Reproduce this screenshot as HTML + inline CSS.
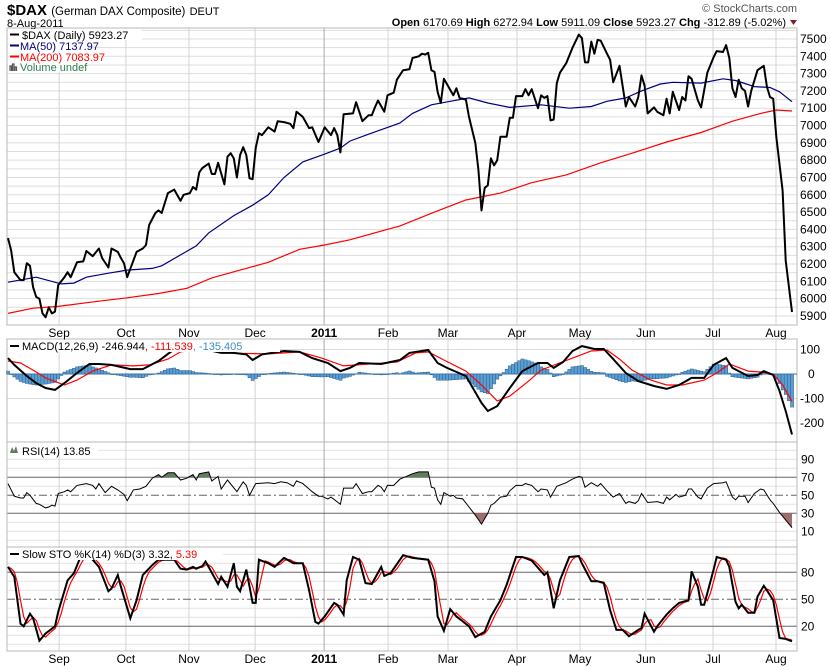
<!DOCTYPE html>
<html><head><meta charset="utf-8"><style>
html,body{margin:0;padding:0;background:#fff;}
svg{display:block;font-family:"Liberation Sans",sans-serif;}
</style></head><body>
<svg id="c" width="830" height="667" viewBox="0 0 830 667" xmlns="http://www.w3.org/2000/svg">
<rect x="0" y="0" width="830" height="667" fill="#fff"/>
<g id="grid"></g>
<g id="marks"></g>
<g id="labels">
<text x="7" y="15" font-size="15" font-weight="bold" fill="#000">$DAX <tspan font-size="11.5" font-weight="normal">(German DAX Composite)</tspan> <tspan font-size="11" font-weight="normal">DEUT</tspan></text>
<text x="7" y="27" font-size="11" fill="#000">8-Aug-2011</text>
<text x="797" y="12" font-size="11" fill="#555" text-anchor="end">© StockCharts.com</text>
<text x="786" y="26" font-size="11" fill="#000" text-anchor="end"><tspan font-weight="bold">Open</tspan> 6170.69 <tspan font-weight="bold">High</tspan> 6272.94 <tspan font-weight="bold">Low</tspan> 5911.09 <tspan font-weight="bold">Close</tspan> 5923.27 <tspan font-weight="bold">Chg</tspan> -312.89 (-5.02%)</text>
<path d="M790 20 L797 20 L793.5 25 Z" fill="#8b1a2a"/>
</g>
</svg>
<script>
// ---------- data ----------
const priceSess=[0,1,2,4,5,6,7,8,9,10,11,12,13,14,15,16,18,19,20,22,24,25,27,29,30,32,33,35,36,37,38,41,43,44,45,47,48,49,51,53,55,56,58,59,60,61,62,64,65,66,67,69,70,71,72,73,74,75,76,77,78,79,80,81,83,85,86,88,90,91,92,94,96,97,99,101,103,104,105,106,107,110,111,113,115,116,117,118,120,121,123,124,126,128,129,131,132,133,134,135,136,137,138,139,142,143,144,146,147,149,150,151,152,153,154,155,156,157,158,159,160,161,162,164,165,166,167,169,170,171,172,173,174,175,176,178,180,182,183,184,185,186,187,188,189,191,192,193,195,197,198,200,201,202,203,204,206,207,209,210,211,212,214,215,216,217,218,220,221,223,225,226,228,229,230,231,232,233,234,235,236,237,239,241,242,243,244,245,247,248,250];
const priceClose=[6350,6280,6153,6107,6107,6205,6190,6066,6010,6000,5915,5893,5950,5915,5925,6078,6124,6153,6124,6210,6215,6275,6245,6290,6235,6180,6290,6270,6235,6205,6124,6270,6290,6310,6425,6495,6510,6495,6610,6630,6565,6600,6610,6645,6630,6730,6755,6780,6720,6720,6785,6660,6820,6840,6810,6700,6830,6875,6830,6695,6690,6870,6955,6945,6990,6965,7025,7020,7010,6985,7080,7050,6985,6990,6905,6990,6945,6985,6945,6845,7065,7070,7135,7025,7060,7060,7105,7145,7080,7175,7190,7265,7320,7325,7390,7400,7415,7410,7420,7320,7310,7195,7130,7270,7175,7215,7160,7150,7050,6900,6745,6510,6640,6655,6810,6770,6800,6935,6935,6935,7045,7045,7170,7170,7210,7175,7210,7100,7175,7160,7170,7030,7035,7245,7305,7360,7450,7525,7505,7365,7365,7485,7415,7495,7490,7415,7380,7250,7345,7110,7165,7110,7165,7290,7230,7070,7105,7080,7060,7155,7070,7195,7090,7165,7145,7285,7270,7145,7105,7305,7395,7430,7425,7465,7390,7215,7165,7265,7215,7200,7110,7200,7320,7345,7225,7165,7155,6935,6625,6220,5923];
const ma50Sess=[0,9,17,21,25,32,38,46,49,56,60,64,72,78,83,88,94,101,106,109,115,125,129,135,141,147,153,160,170,179,186,191,197,202,208,212,221,228,232,238,243,246,250];
const ma50Vals=[6095,6124,6085,6090,6124,6147,6165,6175,6190,6263,6305,6380,6480,6540,6600,6700,6790,6835,6870,6910,6950,7015,7070,7120,7140,7160,7130,7105,7120,7100,7110,7140,7160,7200,7240,7250,7245,7270,7260,7225,7220,7195,7138];
const ma200Sess=[0,8,16,29,38,48,57,65,72,83,93,101,109,125,136,146,157,167,178,189,199,210,221,231,240,245,250];
const ma200Vals=[5915,5945,5955,5985,6005,6030,6060,6120,6155,6210,6285,6310,6340,6420,6500,6570,6610,6670,6715,6785,6840,6905,6960,7025,7070,7090,7084];
const macdSess=[0,2,6,9,12,15,18,22,26,29,33,39,43,48,51,53,58,63,68,72,76,78,81,88,93,97,102,106,109,112,119,122,125,128,134,137,140,146,151,153,156,160,164,169,172,174,177,180,183,187,190,193,197,201,206,210,214,218,222,225,229,231,236,239,241,244,246,248,250];
const macdVals=[65,37,-8,-37,-57,-65,-37,4,41,41,37,20,20,53,82,100,110,100,86,86,80,57,80,94,90,65,45,12,25,45,41,49,57,86,98,45,25,-8,-118,-151,-131,-57,12,45,45,25,49,94,114,102,102,61,4,-29,-49,-61,-45,-16,-16,37,65,25,-8,-4,12,-4,-69,-151,-247];
const sigSess=[0,4,8,12,18,22,27,33,40,45,51,55,60,72,83,93,100,107,115,124,130,134,139,146,151,156,160,166,170,175,180,186,191,195,199,205,210,215,222,226,230,236,240,244,247,250];
const sigVals=[53,45,16,-16,-45,-25,12,37,33,37,61,90,100,85,82,90,65,33,41,49,86,90,57,12,-45,-110,-90,-29,16,41,65,94,98,61,16,-25,-45,-45,-25,4,41,12,8,0,-45,-112];
const rsiSess=[0,2,4,5,6,7,9,10,12,13,14,15,16,18,19,20,22,25,27,28,29,31,33,35,37,38,40,42,44,46,48,49,51,53,55,57,59,60,61,64,65,67,68,70,73,75,76,77,79,83,85,87,89,91,92,94,97,99,100,102,103,106,107,110,111,113,115,116,118,119,120,121,123,125,127,129,131,134,135,136,137,138,139,141,142,143,145,147,149,151,153,154,155,157,159,160,162,164,165,167,169,170,172,173,175,178,180,182,183,184,186,188,189,191,193,195,197,198,200,201,202,204,207,209,210,211,213,214,216,217,218,220,221,223,225,228,229,231,232,233,235,236,238,240,241,243,244,246,250];
const rsiVals=[63,49,47,47,53,50,41,40,36,37,39,38,52,54,56,54,61,63,61,57,63,53,60,56,51,44,56,57,60,69,73,70,75,75,67,69,73,67,74,76,66,71,57,67,54,65,61,50,63,64,63,65,64,60,66,63,54,49,49,46,48,40,58,58,63,52,54,54,61,59,54,61,61,68,71,74,76,76,59,58,45,40,53,49,50,47,46,37,28,18,30,39,41,48,49,55,61,61,63,61,54,57,56,48,60,64,68,71,70,59,64,60,63,55,48,52,41,43,41,44,52,42,43,41,48,45,51,48,50,57,57,48,46,58,63,64,65,48,45,49,49,42,52,57,56,45,41,31,14];
const stoSess=[0,2,4,5,7,8,10,12,15,16,19,21,23,25,27,29,32,33,35,36,39,41,43,46,48,53,55,57,59,60,62,63,67,68,70,72,73,74,76,78,79,80,83,85,88,91,94,96,98,99,101,104,105,107,108,110,112,114,116,119,120,122,125,126,129,134,136,137,139,141,143,147,149,152,154,157,159,162,164,167,171,172,174,176,179,182,183,186,188,190,192,194,196,198,201,202,203,206,207,210,212,214,217,218,220,221,222,225,226,229,230,232,233,234,236,238,239,241,242,244,246,248,250];
const stoK=[86,75,23,20,34,29,4,12,20,36,71,79,96,100,94,86,59,62,77,64,29,49,77,88,94,94,84,83,86,84,87,92,67,75,64,90,64,59,83,46,46,94,90,86,96,90,90,60,25,23,31,46,44,33,71,97,94,68,67,86,76,79,94,99,96,94,70,31,15,39,31,20,8,14,31,49,66,97,97,93,77,80,40,71,97,98,90,70,70,68,38,16,16,9,16,18,34,14,20,33,40,46,49,81,64,44,44,83,97,94,86,47,40,44,35,35,53,65,60,49,7,6,3.3];
const monthNames=["Sep","Oct","Nov","Dec","2011","Feb","Mar","Apr","May","Jun","Jul","Aug"];
const monthSess=[16.3,37.6,57.7,78.8,100.8,121.2,140.3,162.3,182.4,203.4,224.8,244.9];
const priceTicks=[5900,6000,6100,6200,6300,6400,6500,6600,6700,6800,6900,7000,7100,7200,7300,7400,7500];
const macdTicks=[100,0,-100,-200];
const rsiTicks=[90,70,50,30,10];
const stoTicks=[80,50,20];

// ---------- axes ----------
const L=7,R=797;
const X=s=>8+s*3.136;
const yP=p=>39+(7500-p)*0.1731;
const yM=v=>374-v*0.245;
const yR=v=>495.3-(v-50)*0.9;
const yS=v=>599.3-(v-50)*0.9;
const NS="http://www.w3.org/2000/svg";
const G=document.getElementById('grid'),M=document.getElementById('marks'),LB=document.getElementById('labels');
function mk(tag,attrs,parent){const e=document.createElementNS(NS,tag);for(const k in attrs)e.setAttribute(k,attrs[k]);(parent||M).appendChild(e);return e;}
function interp(ss,vs,s){if(s<=ss[0])return vs[0];for(let i=1;i<ss.length;i++){if(s<=ss[i]){const t=(s-ss[i-1])/(ss[i]-ss[i-1]);return vs[i-1]+t*(vs[i]-vs[i-1]);}}return vs[vs.length-1];}
function pathOf(ss,vs,yf){return ss.map((s,i)=>(i?'L':'M')+X(s).toFixed(1)+' '+yf(vs[i]).toFixed(1)).join(' ');}

const panels=[{t:28,b:325,n:'price-panel'},{t:339,b:442,n:'macd-panel'},{t:442,b:547,n:'rsi-panel'},{t:547,b:651,n:'sto-panel'}];

for(let p=5900;p<=7550;p+=50){const e=mk('line',{x1:L,x2:R,y1:yP(p),y2:yP(p),stroke:'#ddd','stroke-width':1},G);

}
macdTicks.forEach(v=>{const e=mk('line',{x1:L,x2:R,y1:yM(v),y2:yM(v),stroke:'#ddd'},G);

});
for(let v=0;v<=100;v+=10){if(v==70||v==30||v==50)continue;const e=mk('line',{x1:L,x2:R,y1:yR(v),y2:yR(v),stroke:'#e2e2e2'},G);

}
for(let v=0;v<=100;v+=10){if(v==80||v==20||v==50)continue;const e=mk('line',{x1:L,x2:R,y1:yS(v),y2:yS(v),stroke:'#e2e2e2'},G);

}
monthSess.forEach((s,i)=>{panels.forEach(pn=>{const e=mk('line',{x1:X(s),x2:X(s),y1:pn.t,y2:pn.b,stroke:monthNames[i]=='2011'?'#aaa':'#d4d4d4'},G);

});});
[[yR(70),'none'],[yR(30),'none'],[yR(50),'8,3,2,3'],[yS(80),'none'],[yS(20),'none'],[yS(50),'8,3,2,3']].forEach(a=>{const e=mk('line',{x1:L,x2:R,y1:a[0],y2:a[0],stroke:'#666','stroke-dasharray':a[1]},G);

});
panels.forEach(pn=>{const e=mk('rect',{x:L,y:pn.t,width:R-L,height:pn.b-pn.t,fill:'none',stroke:'#b8b8b8'},G);

});

// ---------- price panel ----------
let e;
e=mk('path',{d:pathOf(ma200Sess,ma200Vals,yP),fill:'none',stroke:'#f00','stroke-width':1.2});


e=mk('path',{d:pathOf(ma50Sess,ma50Vals,yP),fill:'none',stroke:'#000080','stroke-width':1.2});


e=mk('path',{d:pathOf(priceSess,priceClose,yP),fill:'none',stroke:'#000','stroke-width':2,'stroke-linejoin':'round'});



// ---------- MACD ----------
for(let s=0;s<=250;s++){const h=interp(macdSess,macdVals,s)-interp(sigSess,sigVals,s);const y0=yM(0),y1=yM(h);
e=mk('rect',{x:X(s)-1.5,y:Math.min(y0,y1),width:3.1,height:Math.max(0.6,Math.abs(y1-y0)),fill:'#5b9fd2',stroke:'#2a5f93','stroke-width':0.5});

}
e=mk('line',{x1:L,x2:R,y1:yM(0),y2:yM(0),stroke:'#3a76b0','stroke-width':1});


e=mk('path',{d:pathOf(sigSess,sigVals,yM),fill:'none',stroke:'#f00','stroke-width':1.2});


e=mk('path',{d:pathOf(macdSess,macdVals,yM),fill:'none',stroke:'#000','stroke-width':2});



// ---------- RSI ----------
const defs=mk('defs',{},document.getElementById('c'));
const cp1=mk('clipPath',{id:'above70'},defs);
mk('rect',{x:L,y:442,width:R-L,height:yR(70)-442},cp1);
const cp2=mk('clipPath',{id:'below30'},defs);
mk('rect',{x:L,y:yR(30),width:R-L,height:547-yR(30)},cp2);
const rsiLine=pathOf(rsiSess,rsiVals,yR);
const last=rsiSess[rsiSess.length-1];
e=mk('path',{d:rsiLine+' L'+X(last)+' '+yR(70)+' L'+X(0)+' '+yR(70)+' Z',fill:'#5f7f5c','clip-path':'url(#above70)'});


e=mk('path',{d:rsiLine+' L'+X(last)+' '+yR(30)+' L'+X(0)+' '+yR(30)+' Z',fill:'#a06e6e','clip-path':'url(#below30)'});


e=mk('path',{d:rsiLine,fill:'none',stroke:'#000','stroke-width':1});



// ---------- Stochastic ----------
const dS=[],dV=[];
for(let s=0;s<=250;s++){let a=0;for(let k=0;k<3;k++)a+=interp(stoSess,stoK,Math.max(0,s-k));dS.push(s);dV.push(a/3);}
e=mk('path',{d:pathOf(dS,dV,yS),fill:'none',stroke:'#f00','stroke-width':1.2});


e=mk('path',{d:pathOf(stoSess,stoK,yS),fill:'none',stroke:'#000','stroke-width':2});



// ---------- axis labels ----------
function txt(x,y,s,attrs,name){const t=mk('text',Object.assign({x:x,y:y,'font-size':11,fill:'#000'},attrs||{}),LB);t.textContent=s;

return t;}
priceTicks.forEach(p=>txt(800,yP(p)+4,String(p),{'font-size':12},'price-tick-label'));
macdTicks.forEach(v=>txt(v==0?808:800,yM(v)+4,String(v),{'font-size':12},'macd-tick-label'));
rsiTicks.forEach(v=>txt(801,yR(v)+4,String(v),{'font-size':12},'rsi-tick-label'));
stoTicks.forEach(v=>txt(801,yS(v)+4,String(v),{'font-size':12},'sto-tick-label'));
monthSess.forEach((s,i)=>{const b=monthNames[i]=='2011';
txt(X(s),337,monthNames[i],{'text-anchor':'middle','font-size':12,'font-weight':b?'bold':'normal'},'month-label-top');
txt(X(s),663,monthNames[i],{'text-anchor':'middle','font-size':12,'font-weight':b?'bold':'normal'},'month-label-bottom');});

// ---------- legends ----------
function box(x,y,w,h,name){const r=mk('rect',{x:x,y:y,width:w,height:h,fill:'#fff'},LB);

}
box(8,29,134,11,'price-legend-bg');box(8,40,80,11,'ma50-legend-bg');box(8,51,88,11,'ma200-legend-bg');box(8,62,76,10,'volume-legend-bg');
e=mk('line',{x1:10,x2:19,y1:34.5,y2:34.5,stroke:'#000','stroke-width':2},LB);


txt(22,39,'$DAX (Daily) 5923.27',{},'price-legend');
e=mk('line',{x1:10,x2:19,y1:45.5,y2:45.5,stroke:'#000080','stroke-width':2},LB);


txt(20,50,'MA(50) 7137.97',{fill:'#000080'},'ma50-legend');
e=mk('line',{x1:10,x2:19,y1:56.5,y2:56.5,stroke:'#f00','stroke-width':2},LB);


txt(20,61,'MA(200) 7083.97',{fill:'#f00'},'ma200-legend');
e=mk('path',{d:'M10 71 v-5 h1.5 v5 M12.5 71 v-7 h1.5 v7 M15 71 v-4 h1.5 v4',fill:'none',stroke:'#555','stroke-width':1.2},LB);


txt(20,71,'Volume undef',{fill:'#2e7d4f'},'volume-legend');

box(8,340,272,12,'macd-legend-bg');
e=mk('line',{x1:10,x2:19,y1:346,y2:346,stroke:'#000','stroke-width':2},LB);


const mt=txt(22,350,'MACD(12,26,9) -246.944',{},'macd-legend');
const t2=document.createElementNS(NS,'tspan');t2.setAttribute('fill','#f00');t2.textContent=', -111.539';mt.appendChild(t2);
const t3=document.createElementNS(NS,'tspan');t3.setAttribute('fill','#3b8fc4');t3.textContent=', -135.405';mt.appendChild(t3);

box(8,443,90,12,'rsi-legend-bg');
e=mk('path',{d:'M10 453 L12 447 L14 451 L16 446 L18 453 Z',fill:'#5f7f5c'},LB);


txt(22,455,'RSI(14) 13.85',{},'rsi-legend');

box(8,548,215,12,'sto-legend-bg');
e=mk('line',{x1:10,x2:19,y1:554,y2:554,stroke:'#000','stroke-width':2},LB);


const st=txt(22,558,'Slow STO %K(14) %D(3) 3.32, ',{},'sto-legend');
const s2=document.createElementNS(NS,'tspan');s2.setAttribute('fill','#f00');s2.textContent='5.39';st.appendChild(s2);
</script>
</body></html>
